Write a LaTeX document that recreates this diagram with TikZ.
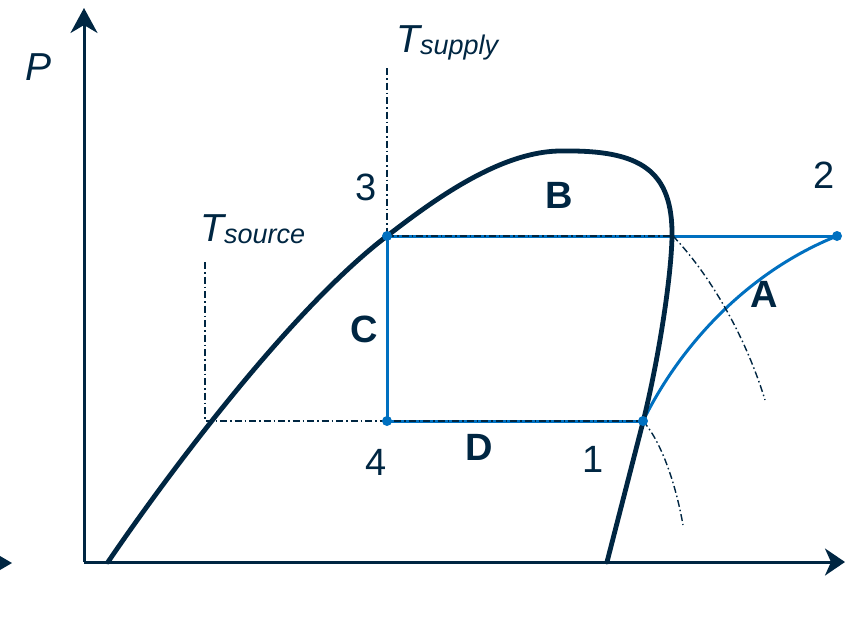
\documentclass[tikz,border=0pt]{standalone}
\usepackage{fontspec}
\setmainfont{Liberation Sans}
\usetikzlibrary{arrows.meta}
\definecolor{navy}{HTML}{002642}
\definecolor{cblue}{HTML}{0070C0}
\tikzset{
  axis/.style={navy, line width=3pt},
  dome/.style={navy, line width=4.8pt, line cap=round, line join=round},
  cyc/.style={cblue, line width=3pt},
  dashdot/.style={navy, line width=1.4pt, dash pattern=on 7pt off 3pt on 1.5pt off 3pt},
  dot/.style={circle, fill=cblue, inner sep=0pt, minimum size=10pt},
  lbl/.style={navy, font=\fontsize{38}{40}\selectfont, anchor=base, inner sep=0pt},
  blbl/.style={navy, font=\fontsize{38}{40}\selectfont\bfseries, anchor=base, inner sep=0pt},
  tlbl/.style={navy, font=\fontsize{39}{40}\selectfont\itshape, anchor=base west, inner sep=0pt},
}
\newcommand{\subtxt}[1]{{\fontsize{27}{27}\selectfont\raisebox{-2pt}{#1}}}
\begin{document}
\begin{tikzpicture}[x=1pt,y=-1pt]
\useasboundingbox (0,0) rectangle (845,619);
% coordinates
\coordinate (O) at (84,562);
\coordinate (ytop) at (84,8);
\coordinate (xend) at (845,562);
\coordinate (p3) at (387,236);
\coordinate (p4) at (387,421);
\coordinate (p1) at (643,421);
\coordinate (p2) at (837,236);
\coordinate (satv) at (673,236);
\coordinate (ts) at (205,421);
\coordinate (tstop) at (205,262);
\coordinate (tsup) at (387,68);
\coordinate (q1) at (765,400);
\coordinate (q2) at (683,525);
% axes
\draw[axis, -{Stealth[length=25pt,width=27pt,inset=8pt]}] (O) -- (ytop);
\draw[axis, -{Stealth[length=20pt,width=27pt,inset=6pt]}] (O) -- (xend);
\fill[navy] (0,556) -- (12,563) -- (0,570) -- cycle;
% cycle (blue)
\draw[cyc] (p3) -- (p4) -- (p1);
\draw[cyc] (p3) -- (p2);
\draw[cyc] (p1) .. controls (683,340) and (752,270) .. (p2);
% dash-dot lines
\draw[dashdot] (tsup) -- (p3);
\draw[dashdot] (tstop) -- (ts) -- (p1);
\draw[dashdot] (p3) -- (satv);
\draw[dashdot] (satv) .. controls (710,275) and (745,335) .. (q1);
\draw[dashdot] (p1) .. controls (660,440) and (675,480) .. (q2);
% saturation dome
\draw[dome] (108,562) .. controls (165,478) and (290,310) .. (p3)
   .. controls (430,203) and (500,150) .. (563,151)
   .. controls (640,150) and (673,170) .. (672,237)
   .. controls (671,280) and (658,362) .. (643,422)
   -- (607,562);
% dots
\node[dot] (d3) at (p3) {};
\node[dot] (d4) at (p4) {};
\node[dot] (d1) at (p1) {};
\node[dot] (d2) at (p2) {};
% labels
\node[tlbl] (lP) at (25,80) {P};
\node[tlbl] (lTsup) at (396,52) {T\subtxt{supply}};
\node[tlbl] (lTsrc) at (200,241) {T\subtxt{source}};
\node[lbl] (l3) at (366,200) {3};
\node[lbl] (l2) at (824,188) {2};
\node[lbl] (l4) at (376,475) {4};
\node[lbl] (l1) at (593,472) {1};
\node[blbl] (lB) at (559,208) {B};
\node[blbl] (lC) at (364,342) {C};
\node[blbl] (lA) at (764,307) {A};
\node[blbl] (lD) at (479,460) {D};
\end{tikzpicture}
\end{document}
